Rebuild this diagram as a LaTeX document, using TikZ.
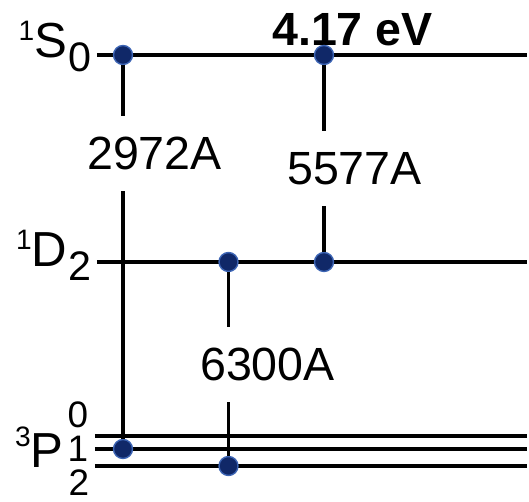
\documentclass[tikz,border=0pt]{standalone}
\usepackage{fontspec}
\setmainfont{Liberation Sans}
\usepackage{xcolor}
\usepackage{tikz}
\usetikzlibrary{positioning}
\definecolor{dotblue}{RGB}{16,40,104}
\definecolor{glowblue}{RGB}{60,100,180}
\newcommand{\termlbl}[3]{\raisebox{0.34cm}{\fontsize{16}{16}\selectfont #1}#2\kern0.03cm\raisebox{-0.28cm}{\fontsize{23.5}{24}\selectfont #3}}

\begin{document}
\begin{tikzpicture}[x=0.02cm, y=-0.02cm,
  level/.style={line width=2.6pt},
  trans/.style={line width=2pt},
  dot/.style={circle, fill=dotblue, draw=glowblue, line width=0.8pt,
              minimum size=0.38cm, inner sep=0pt},
  wl/.style={font=\fontsize{26.5}{30}\selectfont, inner xsep=0pt, inner ysep=0.42cm},
  energy/.style={font=\fontsize{26.5}{30}\selectfont\bfseries, inner sep=0pt},
  term/.style={font=\fontsize{28}{30}\selectfont, inner sep=0pt, anchor=base east},
  jnum/.style={font=\fontsize{21}{21}\selectfont, inner sep=0pt}]
\useasboundingbox (0,0) rectangle (529,502);
\coordinate (s0L) at (97,55);  \coordinate (s0R) at (527,55);
\coordinate (d2L) at (97,262); \coordinate (d2R) at (527,262);
\coordinate (p0L) at (95,436); \coordinate (p0R) at (527,436);
\coordinate (p1L) at (95,449); \coordinate (p1R) at (527,449);
\coordinate (p2L) at (95,466); \coordinate (p2R) at (527,466);
\draw[level] (s0L)--(s0R); \draw[level] (d2L)--(d2R);
\draw[level] (p0L)--(p0R); \draw[level] (p1L)--(p1R); \draw[level] (p2L)--(p2R);
\node[term] (s0lbl) at (92,58) {\termlbl{1}{S}{0}};
\node[term] (d2lbl) at (92,267) {\termlbl{1}{D}{2}};
\node[term] (p3lbl) at (64,468) {\raisebox{0.42cm}{\fontsize{16}{16}\selectfont 3}P};
\node[jnum] (j0) at (78,415) {0};
\node[jnum] (j1) at (78,449) {1};
\node[jnum] (j2) at (79,483) {2};
\node[energy] (e417) at (352.5,30) {4.17 eV};
\node[wl] (w2972) at (154.5,153.5) {2972A};
\node[wl] (w5577) at (354.5,168.5) {5577A};
\node[wl] (w6300) at (267.5,364.5) {6300A};
\node[dot] (s0a) at (123,55) {};
\node[dot] (s0b) at (324,55) {};
\node[dot] (d2a) at (228.5,262) {};
\node[dot] (d2b) at (324,262) {};
\node[dot] (p1a) at (123,449) {};
\node[dot] (p2a) at (228.5,466) {};
\draw[trans] (s0a)--(s0a |- w2972.north); \draw[trans] (s0a |- w2972.south)--(p1a);
\draw[trans] (s0b)--(s0b |- w5577.north); \draw[trans] (s0b |- w5577.south)--(d2b);
\draw[trans] (d2a)--(d2a |- w6300.north); \draw[trans] (d2a |- w6300.south)--(p2a);
\end{tikzpicture}
\end{document}
